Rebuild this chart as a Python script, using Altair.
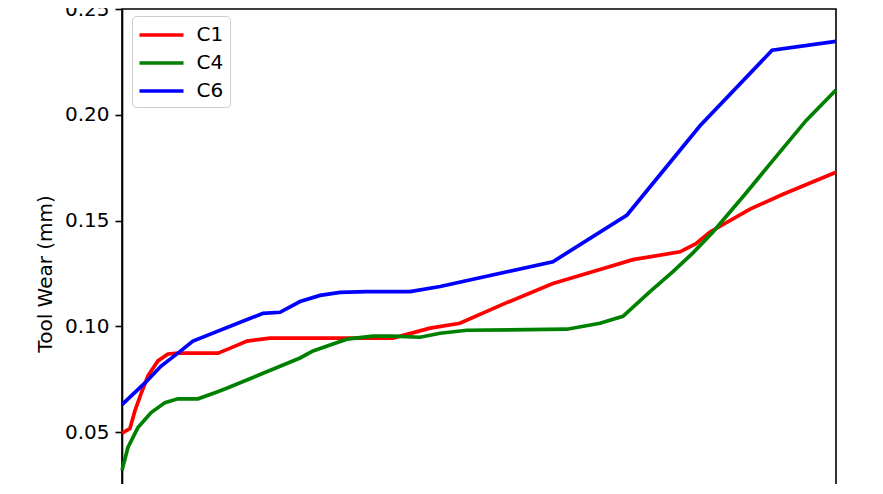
import altair as alt
import pandas as pd

# Cut number (x) and tool wear in mm (y)
c1_x = [1, 4.5, 6.7, 9.4, 12.4, 16.8, 21.2, 25.6, 43.2, 47.6, 56.0, 66.1, 85.0, 120.2,
        136.5, 149.6, 169.4, 190.5, 211.2, 225.7, 246.4, 253.4, 259.6, 277.2, 291.7, 315]
c1_y = [0.0495, 0.0516, 0.0601, 0.0681, 0.0765, 0.0836, 0.0869, 0.0873, 0.0873, 0.0892,
        0.0930, 0.0944, 0.0944, 0.0944, 0.0991, 0.1014, 0.1108, 0.1202, 0.1268, 0.1315,
        0.1352, 0.1390, 0.1446, 0.1554, 0.1624, 0.1728]

c4_x = [1, 3.6, 8.0, 13.8, 19.9, 25.6, 34.4, 41.9, 47.6, 79.3, 85.0, 93.8, 99.9, 111.4,
        120.2, 132.1, 140.9, 152.7, 196.7, 211.2, 221.3, 233.2, 243.3, 252.1, 260.9, 275.0,
        289.1, 301.8, 315]
c4_y = [0.0319, 0.0427, 0.0521, 0.0592, 0.0639, 0.0657, 0.0657, 0.0686, 0.0709, 0.0850,
        0.0883, 0.0916, 0.0939, 0.0953, 0.0953, 0.0948, 0.0967, 0.0981, 0.0986, 0.1014,
        0.1047, 0.1164, 0.1258, 0.1347, 0.1446, 0.1624, 0.1808, 0.1972, 0.2117]

c6_x = [1, 11.1, 18.2, 25.6, 32.2, 63.0, 70.5, 79.3, 88.1, 96.9, 108.7, 127.7, 140.9,
        190.5, 223.1, 255.2, 286.9, 315]
c6_y = [0.0629, 0.0732, 0.0812, 0.0873, 0.0930, 0.1061, 0.1066, 0.1117, 0.1146, 0.1160,
        0.1164, 0.1164, 0.1188, 0.1305, 0.1526, 0.1948, 0.2305, 0.2347]

series = ["C1", "C4", "C6"]
colors = ["#ff0000", "#008000", "#0000ff"]
y_ticks = [0.05, 0.10, 0.15, 0.20, 0.25]

rows = []
for name, xs, ys in [("C1", c1_x, c1_y), ("C4", c4_x, c4_y), ("C6", c6_x, c6_y)]:
    for i, (xv, yv) in enumerate(zip(xs, ys)):
        rows.append({"cut": xv, "wear": yv, "tool": name, "order": i})
df = pd.DataFrame(rows)

font = "DejaVu Sans"

chart = alt.Chart(df).mark_line(strokeWidth=3.7).encode(
    x=alt.X("cut:Q", scale=alt.Scale(domain=[1, 315], nice=False, zero=False), axis=None),
    y=alt.Y("wear:Q", scale=alt.Scale(domain=[0, 0.25], nice=False),
            axis=alt.Axis(title="Tool Wear (mm)", grid=False, values=y_ticks, format=".2f")),
    color=alt.Color("tool:N", scale=alt.Scale(domain=series, range=colors),
                    legend=alt.Legend(title=None, orient="none", legendX=10, legendY=7,
                                      symbolType="M-2,0H2", symbolSize=484, symbolStrokeWidth=3.7,
                                      symbolOffset=10.5,
                                      fillColor="white", strokeColor="#cccccc", cornerRadius=4,
                                      padding=6, rowPadding=5, labelFontSize=20, labelFont=font,
                                      labelColor="black", labelOffset=22,
                                      labelExpr="datum.label + '\u2009'")),
    order="order:Q",
).properties(
    width=714, height=528.75,
    autosize=alt.AutoSizeParams(type="none"),
    padding={"left": 114, "top": 1, "right": 30, "bottom": -53.75},
).configure_view(
    stroke="black", strokeWidth=1.6
).configure_axis(
    labelFont=font, titleFont=font, labelFontSize=20, titleFontSize=20,
    titleFontWeight="normal", labelColor="black", titleColor="black",
    domainColor="black", tickColor="black", tickSize=7, tickWidth=1.6, domainWidth=1.6,
    labelPadding=6, titlePadding=9,
)

chart.save("out.html", embed_options={"renderer": "svg", "actions": False})
